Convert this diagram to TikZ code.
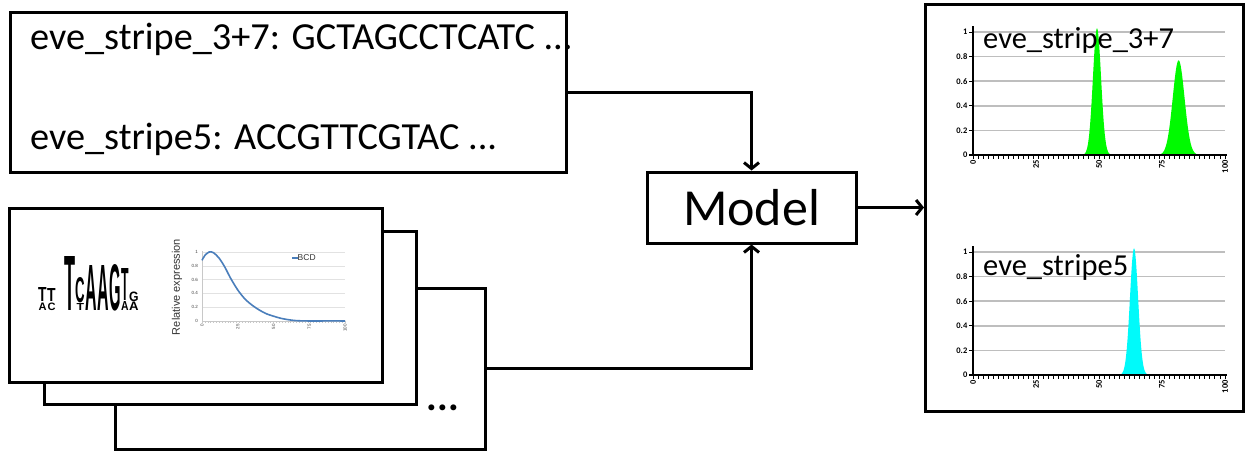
\documentclass[tikz,border=0pt]{standalone}
\usepackage{fontspec}
\setmainfont{Carlito}
\newfontfamily\arialfont{Liberation Sans}
\usetikzlibrary{arrows.meta}
\definecolor{gridgray}{RGB}{190,190,190}
\definecolor{minigrid}{RGB}{226,226,226}
\definecolor{miniaxis}{RGB}{200,200,200}
\definecolor{bcdblue}{RGB}{74,126,187}
\definecolor{peakgreen}{RGB}{0,250,0}
\definecolor{peakcyan}{RGB}{0,250,250}
\newcommand{\fsz}[1]{\fontsize{#1}{#1}\selectfont}
% name, x-left, y-bottom, width, height, letter
\newcommand{\logoletter}[6]{\node[inner sep=0pt, anchor=south west] (#1) at (#2,#3) {\resizebox{#4pt}{#5pt}{\arialfont\bfseries #6}};}
% right-hand result panel grid: #1 = vertical offset
\newcommand{\respanel}[1]{%
  \begin{scope}[shift={(973,155+#1)}, x=2.52pt, y=123pt]
    \foreach \v in {0.2,0.4,0.6,0.8,1}
      \draw[gridgray, line width=1.5pt] (0,\v) -- (100,\v);
  \end{scope}}
\newcommand{\resaxes}[2]{%
  \begin{scope}[shift={(973,155+#1)}, x=2.52pt, y=123pt]
    \draw[line width=1.6pt] (0,0) -- (0,1.05);
    \foreach \v in {0,0.2,0.4,0.6,0.8,1}
      \draw[line width=1pt] (0,\v) -- ++(-4pt,0pt);
    \draw[line width=2.4pt] (-1.5,0) -- (100.6,0);
    \foreach \i in {0,2,...,100}
      \draw[line width=0.9pt] (\i,0) -- ++(0pt,-4pt);
    \foreach \v/\t [count=\k] in {0/0,0.2/0.2,0.4/0.4,0.6/0.6,0.8/0.8,1/1}
      \node[anchor=east, font=\fsz{8.5}\bfseries, inner sep=0pt] (#2y\k) at ([xshift=-5.5pt]0,\v) {\t};
    \foreach \i [count=\k] in {0,25,50,75,100}
      \node[rotate=90, anchor=east, font=\fsz{8.5}\bfseries, inner sep=0pt] (#2x\k) at ([yshift=-5pt]\i,0) {\i};
  \end{scope}}

\begin{document}
\begin{tikzpicture}[x=1pt, y=-1pt,
  box/.style={draw=black, line width=3pt, fill=white, inner sep=0pt},
  conn/.style={line width=3pt, -{Straight Barb[length=6pt,width=15pt]}},
  seqtext/.style={anchor=base west, inner sep=0pt, font=\fsz{38.3}},
  paneltitle/.style={anchor=base west, inner sep=0pt, font=\fsz{30.5}},
]
\useasboundingbox (0,0) rectangle (1249,453);

% ---------- sequence box ----------
\node[box, minimum width=556pt, minimum height=160pt] (seq) at (288,92) {};
\node[seqtext] (seq1) at (30,49) {eve\_stripe\_3+7: GCTAGCCTCATC ...};
\node[seqtext] (seq2) at (30,149) {eve\_stripe5: ACCGTTCGTAC ...};

% ---------- stacked factor boxes ----------
\node[box, minimum width=370pt, minimum height=161pt] (back) at (300,368.5) {};
\node[box, minimum width=372pt, minimum height=173pt] (mid) at (230,317.5) {};
\node[box, minimum width=373pt, minimum height=174pt] (front) at (195.5,295) {};
\node[anchor=base, inner sep=0pt, font=\fsz{40}\bfseries] (dots) at (443,410) {...};

% sequence logo
\logoletter{l1a}{38}{302}{8.5}{14}{T}
\logoletter{l1b}{38.5}{311}{8}{7.5}{A}
\logoletter{l2a}{47}{302}{8.5}{13}{T}
\logoletter{l2b}{47.5}{311}{8}{7.5}{C}
\logoletter{l3}{64}{311}{11}{54}{T}
\logoletter{l4a}{75.5}{303}{9.5}{25}{C}
\logoletter{l4b}{76.5}{311}{7.5}{7}{T}
\logoletter{l5}{85}{311}{11.5}{45}{A}
\logoletter{l6}{97}{311}{11.5}{45}{A}
\logoletter{l7}{109}{311}{11.5}{46}{G}
\logoletter{l8a}{121}{301}{7.5}{32}{T}
\logoletter{l8b}{121}{311}{7.5}{9}{A}
\logoletter{l9a}{129}{301.5}{9.5}{9.5}{G}
\logoletter{l9b}{129}{311}{9.5}{8.5}{A}

% mini expression chart
\begin{scope}[shift={(202,321)}, x=1.43pt, y=69pt]
  \foreach \v in {0.2,0.4,0.6,0.8,1}
    \draw[minigrid, line width=0.6pt] (0,\v) -- (100,\v);
  \draw[miniaxis, line width=0.7pt] (0,-0.02) -- (0,1.02);
  \draw[miniaxis, line width=0.9pt] (0,0) -- (100,0);
  \foreach \i in {0,2,...,100}
    \draw[miniaxis, line width=0.4pt] (\i,0) -- ++(0pt,-2pt);
  \foreach \v/\t [count=\k] in {0/0,0.2/0.2,0.4/0.4,0.6/0.6,0.8/0.8,1/1}
    \node[anchor=east, font=\arialfont\fsz{4.5}, inner sep=0pt, text=black!75] (my\k) at ([xshift=-4pt]0,\v) {\t};
  \foreach \i [count=\k] in {0,25,50,75,100}
    \node[rotate=90, anchor=east, font=\arialfont\fsz{4.5}, inner sep=0pt, text=black!75] (mx\k) at ([yshift=-3pt]\i,0) {\i};
  \draw[bcdblue, line width=1.6pt] plot[smooth] coordinates {
    (0,0.88) (2,0.95) (5,1.0) (8,0.99) (12,0.91) (16,0.78) (20,0.62) (25,0.45)
    (30,0.32) (35,0.23) (40,0.16) (45,0.105) (50,0.07) (55,0.04) (60,0.02)
    (65,0.007) (70,0.002) (80,0) (90,0.002) (100,0)};
  \draw[bcdblue, line width=1.4pt] (63,0.915) -- (67,0.915);
\end{scope}
\node[anchor=west, inner sep=0pt, font=\arialfont\fsz{8.5}, text=black!80] (bcd) at (297.5,258) {BCD};
\node[rotate=90, inner sep=0pt, font=\arialfont\fsz{11}, text=black!80] (relexp) at (177,287) {Relative expression};

% ---------- model ----------
\node[box, minimum width=209pt, minimum height=71pt, font=\fsz{52}] (model) at (751.5,207.5) {Model};

% ---------- result panel ----------
\node[box, minimum width=318pt, minimum height=407pt] (res) at (1084.5,207.5) {};
\respanel{0}
\begin{scope}[shift={(973,155)}, x=2.52pt, y=123pt]
  \fill[peakgreen] plot[domain=43:55.5, samples=70, smooth] (\x,{1.03*exp(-((\x-49.2)/2.3)*((\x-49.2)/2.3))}) -- cycle;
  \fill[peakgreen] plot[domain=74:89.5, samples=70, smooth] (\x,{0.77*exp(-((\x-81.6)/3.3)*((\x-81.6)/3.3))}) -- cycle;
\end{scope}
\resaxes{0}{a}
\node[paneltitle] (t1) at (983,48) {eve\_stripe\_3+7};

\respanel{220}
\begin{scope}[shift={(973,375)}, x=2.52pt, y=123pt]
  \fill[peakcyan] plot[domain=57.5:70, samples=70, smooth] (\x,{1.03*exp(-((\x-63.9)/2.3)*((\x-63.9)/2.3))}) -- cycle;
\end{scope}
\resaxes{220}{b}
\node[paneltitle] (t2) at (983,275) {eve\_stripe5};

% ---------- connectors ----------
\draw[conn] (seq.east) -| (model.north);
\draw[conn] (back.east) -| (model.south);
\draw[conn] (model.east) -- (res.west);
\end{tikzpicture}
\end{document}
